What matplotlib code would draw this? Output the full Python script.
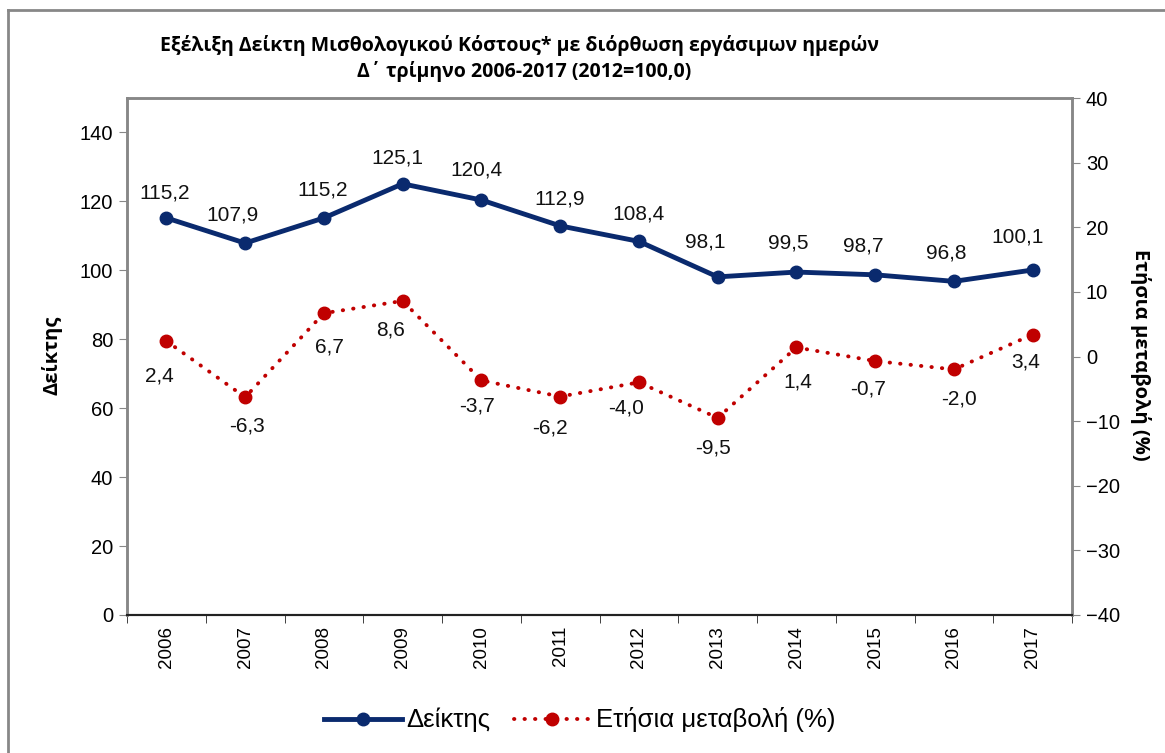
import matplotlib
matplotlib.use("Agg")
import matplotlib.pyplot as plt
from matplotlib.lines import Line2D
import numpy as np

years = ["2006", "2007", "2008", "2009", "2010", "2011", "2012", "2013", "2014", "2015", "2016", "2017"]
index_vals = [115.2, 107.9, 115.2, 125.1, 120.4, 112.9, 108.4, 98.1, 99.5, 98.7, 96.8, 100.1]
change_vals = [2.4, -6.3, 6.7, 8.6, -3.7, -6.2, -4.0, -9.5, 1.4, -0.7, -2.0, 3.4]

title_line1 = "Εξέλιξη Δείκτη Μισθολογικού Κόστους* με διόρθωση εργάσιμων ημερών"
title_line2 = "Δ΄ τρίμηνο 2006-2017 (2012=100,0)"

# label placement (pixel offsets from the marker, as in the original chart)
blue_dx = [-2, -13, -1, -5, -5, 0, 0, -12, -8, -12, -8, -15]
blue_dy = [25, 28, 28, 26, 30, 27, 27, 35, 29, 29, 28, 33]
red_dx = [-7, 2, 6, -12, -4, -10, -13, -5, 1, -7, 5, -7]
red_dy = [35, 29, 34, 29, 26, 31, 26, 30, 35, 28, 30, 27]

BLUE = "#0a2a6e"
RED = "#c00000"
GRAY = "#878787"
DOTS = (0, (0.1, 2.6))

plt.rcParams['font.family'] = ['Liberation Sans', 'DejaVu Sans']

fig = plt.figure(figsize=(11.65, 7.53), dpi=100)
ax = fig.add_axes([127/1165, 1-615/753, (1072-127)/1165, (615-98)/753])
ax2 = ax.twinx()

x = np.arange(len(years))
ax.plot(x, index_vals, color=BLUE, lw=3.5, marker='o', ms=9, zorder=3, solid_capstyle='round')
ax2.plot(x, change_vals, color=RED, lw=2.8, ls=DOTS, dash_capstyle='round',
         marker='o', ms=9, zorder=3)

ax.set_xlim(-0.5, len(years)-0.5)
ax.set_ylim(0, 150)
ax.set_yticks(range(0, 141, 20))
ax2.set_ylim(-40, 40)
ax2.set_yticks(range(-40, 41, 10))

for i, v in enumerate(index_vals):
    ax.annotate(f"{v:.1f}".replace('.', ','), (i, v), xytext=(blue_dx[i], blue_dy[i]),
                textcoords='offset pixels', ha='center', va='center', fontsize=15, color='#111111')
for i, v in enumerate(change_vals):
    ax2.annotate(f"{v:.1f}".replace('.', ','), (i, v), xytext=(red_dx[i], -red_dy[i]),
                 textcoords='offset pixels', ha='center', va='center', fontsize=15, color='#111111')

ax.set_xticks(x)
ax.set_xticklabels(years, rotation=90, fontsize=13.5)
ax.set_xticks(np.arange(-0.5, len(years), 1), minor=True)
ax.tick_params(axis='x', which='major', length=0, pad=8)
ax.tick_params(axis='x', which='minor', length=6, direction='out', color='#222222')
ax.tick_params(axis='y', length=6, direction='out', color=GRAY, labelsize=14.5, pad=4)
ax2.tick_params(axis='y', length=6, direction='out', color=GRAY, labelsize=14.5, pad=4)

for a in (ax, ax2):
    for s in ['left', 'right', 'top']:
        a.spines[s].set_color(GRAY)
        a.spines[s].set_linewidth(1.8)
    a.spines['bottom'].set_color('#222222')
    a.spines['bottom'].set_linewidth(1.5)

fig.text(52/1165, 1-355/753, "Δείκτης", family=['Open Sans', 'DejaVu Sans'], fontweight='bold',
         fontsize=14.5, rotation=90, ha='center', va='center')
fig.text(1140/1165, 1-355/753, "Ετήσια μεταβολή (%)", family=['Open Sans', 'DejaVu Sans'],
         fontweight='bold', fontsize=14.5, rotation=270, ha='center', va='center')

fig.text(520/1165, 1-45/753, title_line1, ha='center', va='center', fontsize=14,
         fontweight='bold', family=['Open Sans', 'DejaVu Sans'])
fig.text(524/1165, 1-72/753, title_line2, ha='center', va='center', fontsize=14,
         fontweight='bold', family=['Open Sans', 'DejaVu Sans'])

handles = [
    Line2D([], [], color=BLUE, lw=3.5, marker='o', ms=9),
    Line2D([], [], color=RED, lw=2.8, ls=DOTS, dash_capstyle='round', marker='o', ms=9),
]
fig.legend(handles, ["Δείκτης", "Ετήσια μεταβολή (%)"], loc='center', bbox_to_anchor=(580/1165, 1-720/753),
           ncol=2, frameon=False, fontsize=18.5, handlelength=3.0, columnspacing=0.9, handletextpad=0.2)

# outer frame
fig.add_artist(Line2D([8/1165, 1], [1-10/753, 1-10/753], color=GRAY, lw=2, transform=fig.transFigure))
fig.add_artist(Line2D([8/1165, 8/1165], [0, 1-10/753], color=GRAY, lw=2, transform=fig.transFigure))

fig.savefig("out.png", dpi=100)
